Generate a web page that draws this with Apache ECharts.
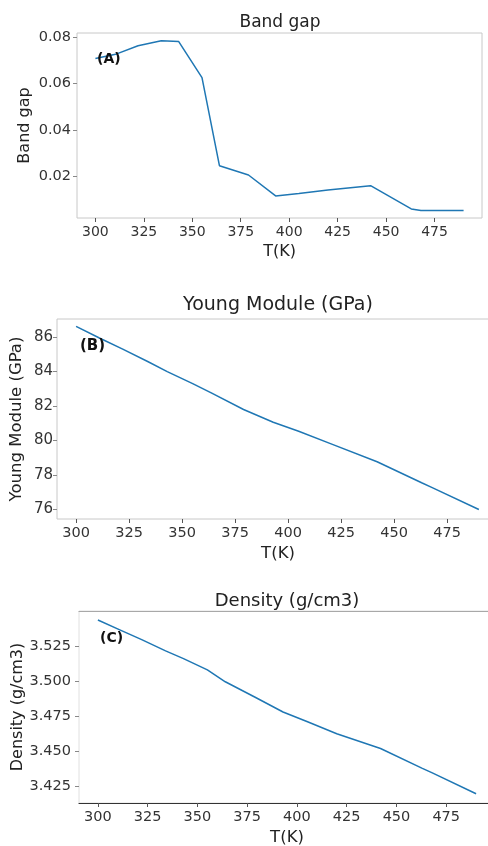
<!DOCTYPE html>
<html>
<head>
<meta charset="utf-8">
<script src="https://cdn.jsdelivr.net/npm/echarts@6/dist/echarts.min.js"></script>
<style>
  html, body { margin: 0; padding: 0; background: #fff; }
  #chart { width: 488px; height: 846px; }
</style>
</head>
<body>
<div id="chart"></div>
<script>
// temperatures shared by the three panels
const temps = [300, 311, 322, 334, 343, 355, 364, 379, 393, 405, 420, 442, 463, 468, 490];
const bandGap = [0.0708, 0.0728, 0.0763, 0.0785, 0.0781, 0.0626, 0.0247, 0.0207, 0.0117, 0.0127, 0.0142, 0.0161, 0.0061, 0.0054, 0.0054];
const young = [86.62, 85.95, 85.3, 84.57, 84.0, 83.3, 82.75, 81.8, 81.06, 80.54, 79.82, 78.77, 77.55, 77.27, 76.0];
const density = [3.5435, 3.5365, 3.5295, 3.5215, 3.516, 3.508, 3.4995, 3.4885, 3.478, 3.4712, 3.4625, 3.452, 3.4379, 3.4346, 3.4198];

const xTicks = [300, 325, 350, 375, 400, 425, 450, 475];
const bandGapTicks = [0.02, 0.04, 0.06, 0.08];
const youngTicks = [76, 78, 80, 82, 84, 86];
const densityTicks = [3.425, 3.45, 3.475, 3.5, 3.525];

const font = 'DejaVu Sans';
const lineColor = '#1f77b4';

function pairs(ys) {
  return temps.map((t, i) => [t, ys[i]]);
}

function xAxis(gridIndex, min, max, fontSize, lineStyle) {
  return {
    type: 'value', gridIndex, min, max,
    name: 'T(K)', nameLocation: 'middle', nameGap: 26, nameMoveOverlap: false,
    nameTextStyle: { fontFamily: font, fontSize: fontSize + 2, color: '#222' },
    splitLine: { show: false },
    axisLine: lineStyle ? { show: true, onZero: false, lineStyle } : { show: false, onZero: false },
    axisTick: { show: true, length: 4, customValues: xTicks, lineStyle: { color: '#555' } },
    axisLabel: { customValues: xTicks, margin: 7, fontFamily: font, fontSize, color: '#333' }
  };
}

function yAxis(gridIndex, name, min, max, ticks, digits, fontSize, nameGap, margin) {
  return {
    type: 'value', gridIndex, min, max,
    name, nameLocation: 'middle', nameGap, nameMoveOverlap: false,
    nameTextStyle: { fontFamily: font, fontSize: fontSize + 1.5, color: '#222' },
    splitLine: { show: false },
    axisLine: { show: false },
    axisTick: { show: true, length: 4, customValues: ticks, lineStyle: { color: '#888' } },
    axisLabel: {
      customValues: ticks, margin, fontFamily: font, fontSize, color: '#333',
      formatter: v => v.toFixed(digits)
    }
  };
}

function title(text, x, y, size) {
  return {
    type: 'text', x, y,
    style: { text, fontFamily: font, fontSize: size, fill: '#222', align: 'center', verticalAlign: 'middle' }
  };
}

function tag(text, x, y, size) {
  return {
    type: 'text', x, y, z: 100,
    style: { text, fontFamily: font, fontSize: size, fontWeight: 'bold', fill: '#111', align: 'left', verticalAlign: 'middle' }
  };
}

const chart = echarts.init(document.querySelector('#chart'), null, { renderer: 'canvas' });
const option = {
  animation: false,
  grid: [
    { left: 77, top: 33, width: 405, height: 185, show: true, borderColor: '#c8c8c8', borderWidth: 1, outerBoundsMode: 'none' },
    { left: 57, top: 319, width: 442, height: 200, show: true, borderColor: '#c8c8c8', borderWidth: 1, outerBoundsMode: 'none' },
    { left: 79, top: 611, width: 416, height: 192, show: true, borderColor: '#e0e0e0', borderWidth: 1, outerBoundsMode: 'none' }
  ],
  xAxis: [
    xAxis(0, 290.5, 499.5, 14),
    xAxis(1, 291, 499.5, 14.5),
    xAxis(2, 290.5, 499.5, 14.5, { color: '#333', width: 1.2 }),
    // top spine of panel C
    {
      type: 'value', gridIndex: 2, position: 'top', min: 290.5, max: 499.5,
      splitLine: { show: false }, axisTick: { show: false }, axisLabel: { show: false },
      axisLine: { show: true, onZero: false, lineStyle: { color: '#a8a8a8', width: 1.2 } }
    }
  ],
  yAxis: [
    yAxis(0, 'Band gap', 0.0022, 0.0818, bandGapTicks, 2, 14.5, 44, 6),
    yAxis(1, 'Young Module (GPa)', 75.45, 87.05, youngTicks, 0, 15, 32, 4),
    yAxis(2, 'Density (g/cm3)', 3.4132, 3.5499, densityTicks, 3, 14.5, 53, 8)
  ],
  series: [
    { type: 'line', xAxisIndex: 0, yAxisIndex: 0, data: pairs(bandGap) },
    { type: 'line', xAxisIndex: 1, yAxisIndex: 1, data: pairs(young) },
    { type: 'line', xAxisIndex: 2, yAxisIndex: 2, data: pairs(density) }
  ].map(s => Object.assign(s, {
    showSymbol: false,
    lineStyle: { color: lineColor, width: 1.5 },
    itemStyle: { color: lineColor }
  })),
  graphic: [
    title('Band gap', 280, 22.5, 17),
    title('Young Module (GPa)', 278, 305, 19),
    title('Density (g/cm3)', 287, 601, 18),
    tag('(A)', 97, 59, 14),
    tag('(B)', 80, 346, 15),
    tag('(C)', 100, 638, 14)
  ]
};
chart.setOption(option);
</script>
</body>
</html>
